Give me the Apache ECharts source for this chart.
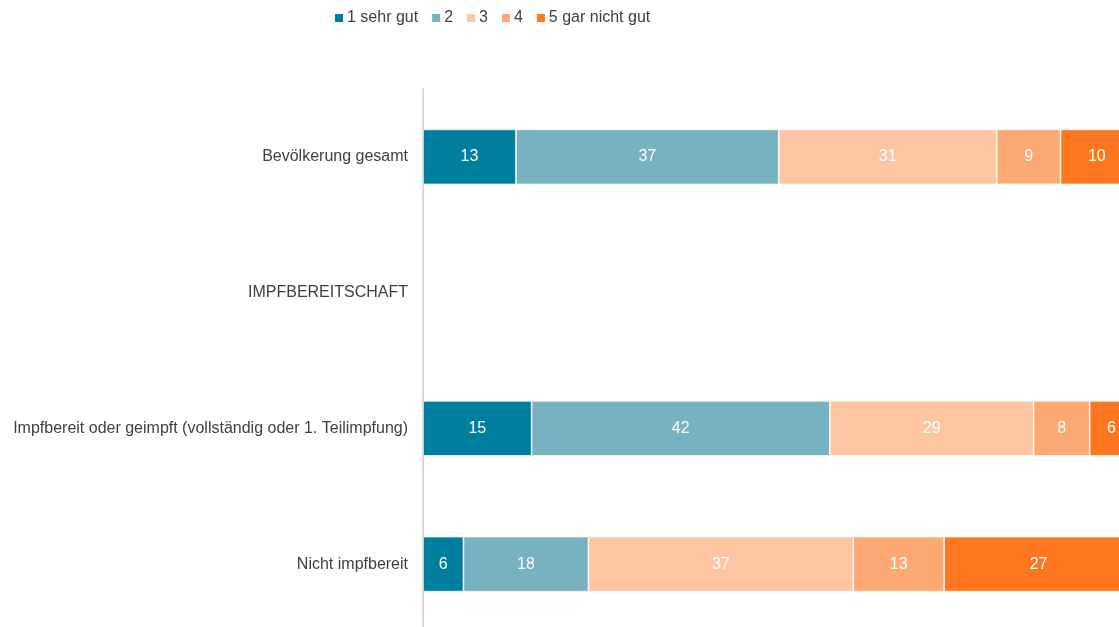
<!DOCTYPE html>
<html>
<head>
<meta charset="utf-8">
<script src="https://cdn.jsdelivr.net/npm/echarts@6/dist/echarts.min.js"></script>
<style>
  html, body { margin: 0; padding: 0; background: #fff; }
  #chart { width: 1119px; height: 627px; }
</style>
</head>
<body>
<div id="chart"></div>
<script>
  // categories, top to bottom
  const categories = [
    'Bevölkerung gesamt',
    'IMPFBEREITSCHAFT',
    'Impfbereit oder geimpft (vollständig oder 1. Teilimpfung)',
    'Nicht impfbereit'
  ]
  const seriesNames = ['1 sehr gut', '2', '3', '4', '5 gar nicht gut']
  const colors = ['#007e9d', '#78b2c1', '#fec5a3', '#fda974', '#fe761e']

  // shares in percent per rating (null = heading row)
  const sehrGut = [13.1, null, 15.3, 5.7]
  const zwei = [37.0, null, 42.0, 17.6]
  const drei = [30.7, null, 28.7, 37.3]
  const vier = [9.0, null, 7.9, 12.8]
  const garNichtGut = [10.2, null, 6.1, 26.6]
  const values = [sehrGut, zwei, drei, vier, garNichtGut]

  const chart = echarts.init(document.getElementById('chart'))

  const series = seriesNames.map((name, i) => ({
    name,
    type: 'bar',
    stack: 'total',
    barWidth: 55,
    data: values[i],
    itemStyle: {
      color: colors[i],
      borderColor: '#ffffff',
      borderWidth: 0.7
    },
    label: {
      show: true,
      position: 'inside',
      color: '#ffffff',
      fontFamily: 'Liberation Sans, Arial, sans-serif',
      fontSize: 16,
      formatter: p => (p.value == null ? '' : Math.round(p.value))
    }
  }))

  chart.setOption({
    animation: false,
    textStyle: { fontFamily: 'Liberation Sans, Arial, sans-serif' },
    legend: {
      top: 5,
      left: 328,
      itemWidth: 10,
      itemHeight: 10,
      itemGap: 12,
      icon: 'rect',
      textStyle: { fontSize: 16, color: '#404040', padding: [0, 0, 0, -2] },
      data: seriesNames
    },
    grid: {
      left: 423,
      top: 89,
      width: 710,
      height: 543,
      outerBoundsMode: 'none'
    },
    xAxis: {
      type: 'value',
      min: 0,
      max: 100,
      show: false
    },
    yAxis: {
      type: 'category',
      inverse: true,
      data: categories,
      axisTick: { show: false },
      axisLine: { lineStyle: { color: '#d9d9d9', width: 2 } },
      axisLabel: { fontSize: 16, color: '#404040', margin: 15 }
    },
    series
  })
</script>
</body>
</html>
